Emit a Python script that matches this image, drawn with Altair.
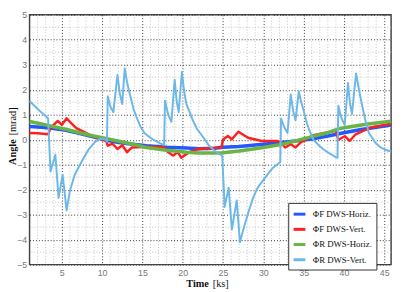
import altair as alt
import pandas as pd

SERIES = ["ΦF DWS-Horiz.", "ΦF DWS-Vert.", "ΦR DWS-Horiz.", "ΦR DWS-Vert."]
COLORS = ["#2457ff", "#ff1f1f", "#6ab446", "#6bb8e8"]
WIDTHS = [3.5, 2.5, 3.5, 2.0]

# Phi_F DWS-Horiz. (blue)
T_BF = [1.0, 2.5, 4.0, 5.5, 7.0, 8.5, 10.0, 11.5, 13.0, 15.5, 18.0, 20.5, 22.0,
        24.0, 25.0, 27.0, 30.0, 32.0, 34.0, 36.0, 38.0, 40.0, 42.0, 44.0, 45.85]
V_BF = [0.53, 0.5, 0.45, 0.38, 0.27, 0.15, 0.02, -0.08, -0.15, -0.24, -0.3, -0.33, -0.36,
        -0.34, -0.3, -0.27, -0.18, -0.12, -0.05, 0.03, 0.15, 0.28, 0.4, 0.5, 0.59]

# Phi_F DWS-Vert. (red)
T_RF = [1.0, 2.0, 3.35, 3.55, 4.5, 5.0, 5.6, 6.2, 6.8, 8.8, 10.5, 10.7, 11.3, 11.9, 12.5,
        13.1, 13.7, 15.5, 17.7, 18.0, 18.8, 19.4, 19.8, 20.8, 22.0, 24.8, 25.0, 25.6, 26.1,
        26.9, 28.1, 29.8, 31.8, 32.2, 32.7, 33.4, 34.0, 34.6, 36.2, 39.0, 39.3, 40.1, 40.7,
        41.4, 42.3, 43.5, 45.85]
V_RF = [0.27, 0.26, 0.22, 0.45, 0.75, 0.59, 0.86, 0.65, 0.46, 0.14, -0.03, -0.24, -0.16, -0.37, -0.22,
        -0.5, -0.31, -0.28, -0.3, -0.45, -0.63, -0.5, -0.72, -0.5, -0.37, -0.31, 0.01, 0.15, 0.02,
        0.32, 0.08, -0.05, -0.05, -0.12, -0.31, -0.18, -0.31, -0.12, 0.18, 0.36, 0.0, 0.14, -0.05,
        0.2, 0.34, 0.5, 0.64]

# Phi_R DWS-Horiz. (green)
T_GR = [1.0, 2.5, 4.0, 5.5, 7.0, 8.5, 10.0, 11.5, 13.0, 15.5, 18.0, 20.5, 22.0,
        24.0, 25.0, 27.0, 30.0, 32.0, 34.0, 36.0, 38.0, 39.5, 41.0, 43.0, 45.85]
V_GR = [0.73, 0.63, 0.52, 0.42, 0.3, 0.18, 0.08, -0.02, -0.12, -0.31, -0.42, -0.5, -0.53,
        -0.53, -0.52, -0.45, -0.31, -0.2, -0.05, 0.12, 0.28, 0.45, 0.53, 0.63, 0.74]

# Phi_R DWS-Vert. (light blue)
T_LB = [1.0, 2.2, 3.0, 3.3, 3.6, 4.2, 4.6, 5.1, 5.6, 6.0, 6.6, 7.5, 8.3, 9.1, 9.8, 10.5,
        10.6, 10.7, 11.0, 11.4, 11.9, 12.2, 12.5, 12.8, 13.1, 13.35, 13.95, 14.4, 14.75, 15.3,
        16.0, 16.8, 17.4, 17.7, 17.8, 18.2, 18.6, 19.0, 19.25, 19.5, 19.9, 20.15, 20.45, 21.25,
        21.8, 22.45, 23.3, 24.0, 24.7, 24.9, 25.2, 25.7, 26.1,
        26.7, 27.1, 27.6, 28.1, 28.7, 29.3, 30.5, 31.2, 32.0, 32.1, 32.2, 32.6, 33.0, 33.4,
        33.7, 34.0, 34.4, 34.7, 35.0, 35.4, 35.8, 36.2, 36.8, 37.4, 38.2, 39.0, 39.2, 39.3,
        39.7, 40.1, 40.5, 40.75, 41.0, 41.5, 41.9, 42.3, 42.7, 43.1, 43.9, 44.5, 45.1, 45.85]
V_LB = [1.55, 1.17, 0.95, 0.85, -1.27, -0.6, -2.33, -1.4, -2.83, -2.05, -1.4, -0.85, -0.4, -0.1, 0.05, 0.0,
        -0.08, 1.74, 1.35, 1.1, 2.59, 1.85, 1.43, 2.85, 2.3, 1.94, 1.17, 0.8, 0.53, 0.25,
        0.08, -0.08, -0.18, -0.2, 1.56, 1.0, 0.72, 2.4, 1.55, 1.1, 2.71, 2.0, 1.43, 0.78,
        0.42, 0.14, -0.25, -0.45, -0.6, -0.65, -2.69, -1.92, -3.59,
        -2.43, -4.1, -3.5, -2.95, -2.35, -1.92, -1.4, -1.12, -0.92, -0.9, 0.85, 0.5, 0.27, 1.81,
        1.15, 0.78, 1.94, 1.5, 1.17, 0.66, 0.3, 0.01, -0.2, -0.37, -0.55, -0.7, -0.72, 1.36,
        0.85, 0.59, 2.27, 1.45, 1.04, 2.65, 1.94, 1.3, 0.72, 0.27, -0.12, -0.3, -0.4, -0.47]

X_TICKS = [5, 10, 15, 20, 25, 30, 35, 40, 45]
Y_TICKS = [-5, -4, -3, -2, -1, 0, 1, 2, 3, 4, 5]
X_MINOR = [t for t in range(2, 46) if t % 5 != 0]
Y_MINOR = [-4.5, -3.5, -2.5, -1.5, -0.5, 0.5, 1.5, 2.5, 3.5, 4.5]

X_TITLE = ["Time", "[ks]"]
Y_TITLE = ["Angle", "[mrad]"]

W, H = 369, 255

rows = []
for name, ts, vs in zip(SERIES, [T_BF, T_RF, T_GR, T_LB], [V_BF, V_RF, V_GR, V_LB]):
    for t, v in zip(ts, vs):
        rows.append({"series": name, "t": t, "v": v})
df = pd.DataFrame(rows)

xscale = alt.Scale(domain=[1, 45.85], nice=False, zero=False)
yscale = alt.Scale(domain=[-5, 5], nice=False, zero=False)
cscale = alt.Scale(domain=SERIES, range=COLORS)

common_axis = dict(grid=True, gridColor="#333333", gridDash=[1, 2], gridWidth=1,
                   ticks=False, domain=False, labelFont="Liberation Sans",
                   labelFontSize=9, labelColor="#777777", title=None)
xaxis = alt.Axis(values=X_TICKS, labelFlush=False, labelPadding=4, **common_axis)
yaxis = alt.Axis(values=Y_TICKS, labelPadding=3, **common_axis)

def X():
    return alt.X("t:Q", scale=xscale, axis=xaxis)

def Y():
    return alt.Y("v:Q", scale=yscale, axis=yaxis)

legend = alt.Legend(orient="none", legendX=264, legendY=192, title=None,
                    symbolType="stroke", symbolStrokeWidth=3, symbolSize=144,
                    labelFont="Liberation Serif", labelFontSize=9, labelColor="#111111",
                    strokeColor="#333333", fillColor="white", padding=4, rowPadding=1.5,
                    labelOffset=6)

minor_x = alt.Chart(pd.DataFrame({"t": X_MINOR})).mark_rule(
    color="#c4c4c4", strokeDash=[1, 2], strokeWidth=1).encode(x=X())
minor_y = alt.Chart(pd.DataFrame({"v": Y_MINOR})).mark_rule(
    color="#c4c4c4", strokeDash=[1, 2], strokeWidth=1).encode(y=Y())

lines = []
for name, w in zip(SERIES, WIDTHS):
    lines.append(
        alt.Chart(df).transform_filter(alt.datum.series == name)
        .mark_line(strokeWidth=w, strokeJoin="round")
        .encode(x=X(), y=Y(), color=alt.Color("series:N", scale=cscale, legend=legend))
    )

tx1 = alt.Chart(pd.DataFrame({"s": [X_TITLE[0]]})).mark_text(
    font="Liberation Serif", fontSize=10.5, fontWeight="bold", align="right",
    baseline="alphabetic", color="#111111").encode(text="s:N", x=alt.value(183), y=alt.value(278))
tx2 = alt.Chart(pd.DataFrame({"s": [X_TITLE[1]]})).mark_text(
    font="Liberation Serif", fontSize=10.5, align="left",
    baseline="alphabetic", color="#111111").encode(text="s:N", x=alt.value(187), y=alt.value(278))
ty1 = alt.Chart(pd.DataFrame({"s": [Y_TITLE[0]]})).mark_text(
    font="Liberation Serif", fontSize=10.5, fontWeight="bold", align="right", angle=270,
    baseline="middle", color="#111111").encode(text="s:N", x=alt.value(-16.5), y=alt.value(127))
ty2 = alt.Chart(pd.DataFrame({"s": [Y_TITLE[1]]})).mark_text(
    font="Liberation Serif", fontSize=10.5, align="left", angle=270,
    baseline="middle", color="#111111").encode(text="s:N", x=alt.value(-16.5), y=alt.value(123))

chart = alt.layer(minor_x, minor_y, *lines, tx1, tx2, ty1, ty2).properties(
    width=W, height=H,
    autosize=alt.AutoSizeParams(type="none"),
    padding={"left": 22, "top": 4, "right": 5, "bottom": 25},
    background="white",
).configure_view(stroke="#444444", strokeWidth=1.5)

chart.save("out.html", embed_options={"renderer": "svg", "actions": False})
